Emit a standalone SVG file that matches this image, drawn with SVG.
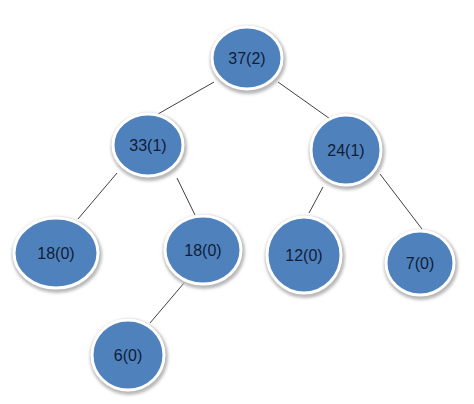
<svg xmlns="http://www.w3.org/2000/svg" width="474" height="404" viewBox="0 0 474 404">
<defs>
<filter id="sh" x="-20%" y="-20%" width="140%" height="140%"><feGaussianBlur stdDeviation="1.5"/></filter>
</defs>
<style>
.edge{stroke:#404040;stroke-width:1;fill:none}
.shadow{fill:#b8b8b8;filter:url(#sh)}
.node{fill:#4f81bd;stroke:#ffffff;stroke-width:3}
.lbl{font-family:"Liberation Sans","DejaVu Sans",sans-serif;font-size:16px;fill:#0f1d36;text-anchor:middle}
</style>
<rect width="474" height="404" fill="#ffffff"/>
<g id="connectors">
<line class="edge" x1="214" y1="82" x2="158" y2="114"/>
<line class="edge" x1="278" y1="82" x2="333" y2="121"/>
<line class="edge" x1="117" y1="173" x2="78" y2="219"/>
<line class="edge" x1="177" y1="178" x2="195" y2="215"/>
<line class="edge" x1="323" y1="187" x2="309" y2="213"/>
<line class="edge" x1="380" y1="174" x2="422" y2="229"/>
<line class="edge" x1="184" y1="283" x2="150" y2="323"/>
</g>
<g id="n37">
<ellipse class="shadow" cx="248" cy="60" rx="38" ry="34"/>
<ellipse class="node" cx="247" cy="58" rx="35" ry="31"/>
<text class="lbl" x="247" y="64">37(2)</text>
</g>
<g id="n33">
<ellipse class="shadow" cx="149" cy="147" rx="38" ry="34"/>
<ellipse class="node" cx="148" cy="145" rx="35" ry="31"/>
<text class="lbl" x="148" y="151">33(1)</text>
</g>
<g id="n24">
<ellipse class="shadow" cx="347" cy="152" rx="38" ry="38"/>
<ellipse class="node" cx="346" cy="150" rx="35" ry="35"/>
<text class="lbl" x="346" y="156">24(1)</text>
</g>
<g id="n18a">
<ellipse class="shadow" cx="57" cy="255" rx="45" ry="38"/>
<ellipse class="node" cx="56" cy="253" rx="42" ry="35"/>
<text class="lbl" x="56" y="259">18(0)</text>
</g>
<g id="n18b">
<ellipse class="shadow" cx="204" cy="252" rx="41" ry="37"/>
<ellipse class="node" cx="203" cy="250" rx="38" ry="34"/>
<text class="lbl" x="203" y="256">18(0)</text>
</g>
<g id="n12">
<ellipse class="shadow" cx="305" cy="257" rx="40" ry="41"/>
<ellipse class="node" cx="304" cy="255" rx="37" ry="38"/>
<text class="lbl" x="304" y="261">12(0)</text>
</g>
<g id="n7">
<ellipse class="shadow" cx="421" cy="265" rx="37" ry="35"/>
<ellipse class="node" cx="420" cy="263" rx="34" ry="32"/>
<text class="lbl" x="420" y="269">7(0)</text>
</g>
<g id="n6">
<ellipse class="shadow" cx="129" cy="357" rx="39" ry="38"/>
<ellipse class="node" cx="128" cy="355" rx="36" ry="35"/>
<text class="lbl" x="128" y="361">6(0)</text>
</g>
</svg>
